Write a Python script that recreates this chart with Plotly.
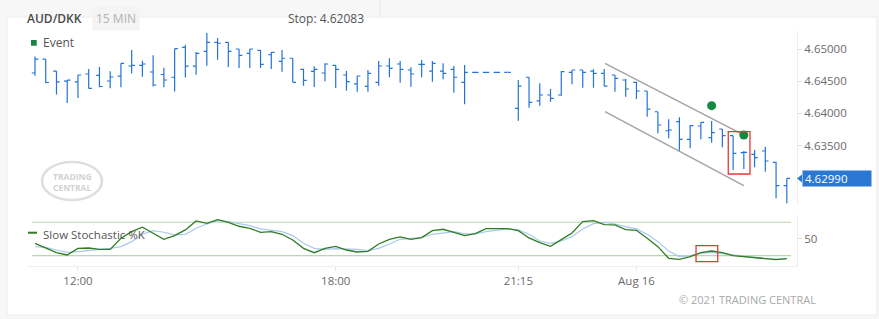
import plotly.graph_objects as go

# ---------------- data ----------------
bar_index = list(range(71))

open_ = [4.64627, 4.64842, 4.64655, 4.64500, 4.64488, 4.64612, 4.64589, 4.64503, 4.64578, 4.64736,
         4.64747, 4.64643, 4.64604, 4.64561, 4.65026, 4.64733, 4.64964, 4.65104, 4.65104, 4.65000,
         4.64933, 4.64980, 4.64911, 4.64809, 4.64856, 4.64685, 4.64654, 4.64627, 4.64747, 4.64596,
         4.64457, 4.64421, 4.64483, 4.64736, 4.64767, 4.64674, 4.64762, 4.64658, 4.64658, 4.64685,
         4.64483, 4.64638, 4.64638, 4.64638, 4.64638, 4.64079, 4.64561, 4.64193, 4.64286, 4.64286,
         4.64638, 4.64674, 4.64658, 4.64623, 4.64596, 4.64519, 4.64483, 4.64348, 4.64026, 4.63731,
         4.63871, 4.63598, 4.63804, 4.63623, 4.63758, 4.63654, 4.63390, 4.63365, 4.63416, 4.63241,
         4.62880]

high = [4.64884, 4.64842, 4.64655, 4.64519, 4.64596, 4.64689, 4.64721, 4.64655, 4.64778, 4.64984,
        4.64818, 4.64904, 4.64708, 4.65005, 4.65065, 4.64953, 4.65248, 4.65171, 4.65104, 4.65000,
        4.65000, 4.64984, 4.64953, 4.64984, 4.64856, 4.64694, 4.64731, 4.64778, 4.64748, 4.64658,
        4.64581, 4.64674, 4.64814, 4.64856, 4.64814, 4.64716, 4.64829, 4.64814, 4.64778, 4.64736,
        4.64752, 4.64638, 4.64638, 4.64638, 4.64638, 4.64519, 4.64561, 4.64467, 4.64379, 4.64658,
        4.64674, 4.64674, 4.64685, 4.64689, 4.64596, 4.64534, 4.64492, 4.64348, 4.64026, 4.63908,
        4.63939, 4.63820, 4.63862, 4.63882, 4.63758, 4.63654, 4.63416, 4.63432, 4.63483, 4.63250,
        4.62990]

low = [4.64584, 4.64469, 4.64293, 4.64161, 4.64239, 4.64387, 4.64405, 4.64391, 4.64405, 4.64620,
       4.64570, 4.64418, 4.64407, 4.64340, 4.64557, 4.64601, 4.64741, 4.64834, 4.64721, 4.64705,
       4.64705, 4.64705, 4.64689, 4.64648, 4.64483, 4.64430, 4.64410, 4.64498, 4.64394, 4.64352,
       4.64337, 4.64337, 4.64430, 4.64561, 4.64477, 4.64415, 4.64561, 4.64492, 4.64529, 4.64321,
       4.64141, 4.64638, 4.64638, 4.64638, 4.64638, 4.63887, 4.64089, 4.64120, 4.64182, 4.64275,
       4.64452, 4.64399, 4.64399, 4.64425, 4.64337, 4.64259, 4.64224, 4.63949, 4.63691, 4.63613,
       4.63405, 4.63458, 4.63598, 4.63545, 4.63474, 4.63121, 4.63137, 4.63163, 4.63095, 4.62682,
       4.62604]

close = [4.64842, 4.64480, 4.64488, 4.64516, 4.64596, 4.64390, 4.64418, 4.64565, 4.64778, 4.64747,
         4.64767, 4.64441, 4.64519, 4.65005, 4.64733, 4.64933, 4.65104, 4.65089, 4.64964, 4.64902,
         4.65000, 4.64762, 4.64949, 4.64856, 4.64483, 4.64514, 4.64685, 4.64767, 4.64685, 4.64492,
         4.64581, 4.64623, 4.64736, 4.64700, 4.64685, 4.64612, 4.64762, 4.64778, 4.64623, 4.64561,
         4.64638, 4.64638, 4.64638, 4.64638, 4.64638, 4.64425, 4.64172, 4.64286, 4.64234, 4.64648,
         4.64674, 4.64638, 4.64623, 4.64425, 4.64545, 4.64379, 4.64348, 4.64065, 4.63820, 4.63742,
         4.63598, 4.63809, 4.63862, 4.63700, 4.63654, 4.63380, 4.63396, 4.63312, 4.63261, 4.62880,
         4.62990]

stoch_k = [42.2, 34.4, 25.4, 21.3, 33.2, 33.8, 31.4, 31.4, 51.2, 63.2,
           71.0, 60.2, 49.4, 56.0, 66.2, 82.3, 78.1, 84.7, 79.9, 72.8,
           69.2, 62.0, 63.2, 58.4, 48.2, 33.2, 25.4, 33.2, 36.8, 30.2,
           26.6, 27.8, 41.0, 49.4, 53.6, 49.4, 52.4, 65.0, 67.4, 62.0,
           56.0, 59.6, 68.6, 68.6, 68.6, 65.0, 51.8, 43.4, 36.8, 48.8,
           60.8, 81.1, 82.9, 75.7, 75.2, 66.8, 65.6, 51.2, 36.2, 15.3,
           13.5, 18.3, 25.4, 28.4, 25.4, 20.1, 18.3, 15.9, 14.1, 12.9,
           14.7]

stoch_d = [36.2, 35.0, 30.2, 26.0, 27.2, 29.0, 30.8, 33.2, 36.2, 45.2,
           58.4, 65.0, 62.0, 57.2, 58.4, 69.2, 76.9, 82.9, 81.1, 78.1,
           74.0, 68.0, 65.0, 63.2, 56.0, 42.2, 33.2, 31.4, 32.6, 32.6,
           31.4, 29.0, 33.2, 41.0, 49.4, 51.2, 52.4, 58.4, 60.8, 63.2,
           59.0, 59.0, 63.2, 66.2, 68.0, 66.2, 58.4, 46.4, 42.2, 46.4,
           54.2, 68.0, 77.5, 79.9, 76.9, 72.2, 68.0, 58.4, 45.2, 28.4,
           18.3, 20.1, 24.3, 26.0, 24.3, 21.3, 18.9, 16.5, 15.3, 14.1,
           14.7]

x_tick_vals = [4, 28, 45, 56]
x_tick_text = ["12:00", "18:00", "21:15", "Aug 16"]
price_tick_vals = [4.635, 4.640, 4.645, 4.650]
stoch_tick_vals = [50]
stoch_levels = [20, 80]

event_x = [63, 66]
event_y = [4.64120, 4.63665]

channel_upper_x = [53.07, 65.83]
channel_upper_y = [4.64778, 4.63680]
channel_lower_x = [53.07, 66.0]
channel_lower_y = [4.64026, 4.62877]

price_box_x = [64.55, 66.57]
price_box_y = [4.63059, 4.63716]
stoch_box_x = [61.55, 63.57]
stoch_box_y = [9.2, 37.96]

last_price = 4.62990
stop_value = 4.62083
symbol = "AUD/DKK"
interval = "15 MIN"

# ---------------- layout helpers ----------------
W, H = 879, 319
ML, MR, MT, MB = 27, 82, 31, 53
PW, PH = W - ML - MR, H - MT - MB


def px_x(px):
    return (px - ML) / PW


def px_y(py):
    return (H - MB - py) / PH


BLUE = "#2374d6"
GREEN_K = "#2f7d22"
BLUE_D = "#a9c9f0"
FONT = "Open Sans"

fig = go.Figure()

fig.add_trace(go.Ohlc(
    x=bar_index, open=open_, high=high, low=low, close=close,
    increasing=dict(line=dict(color=BLUE, width=1.2)),
    decreasing=dict(line=dict(color=BLUE, width=1.2)),
    tickwidth=0.3, hoverinfo="skip", xaxis="x", yaxis="y", showlegend=False))

fig.add_trace(go.Scatter(x=channel_upper_x, y=channel_upper_y, mode="lines",
                         line=dict(color="#a3a3a3", width=1.4), hoverinfo="skip",
                         xaxis="x", yaxis="y", showlegend=False))
fig.add_trace(go.Scatter(x=channel_lower_x, y=channel_lower_y, mode="lines",
                         line=dict(color="#a3a3a3", width=1.4), hoverinfo="skip",
                         xaxis="x", yaxis="y", showlegend=False))

fig.add_trace(go.Scatter(x=event_x, y=event_y, mode="markers",
                         marker=dict(symbol="circle", size=9, color="#128a40"),
                         hoverinfo="skip", xaxis="x", yaxis="y", showlegend=False))

fig.add_trace(go.Scatter(x=bar_index, y=stoch_d, mode="lines",
                         line=dict(color=BLUE_D, width=1.2), hoverinfo="skip",
                         xaxis="x2", yaxis="y2", showlegend=False))
fig.add_trace(go.Scatter(x=bar_index, y=stoch_k, mode="lines",
                         line=dict(color=GREEN_K, width=1.3), hoverinfo="skip",
                         xaxis="x2", yaxis="y2", showlegend=False))

xrange = [-0.745, 70.95]
shapes = []

# frame / background strips
strip = "#f7f7f7"
shapes += [
    dict(type="rect", xref="paper", yref="paper", x0=px_x(0), x1=px_x(W), y0=px_y(17), y1=px_y(0),
         fillcolor=strip, line=dict(width=0), layer="below"),
    dict(type="rect", xref="paper", yref="paper", x0=px_x(0), x1=px_x(7), y0=px_y(H), y1=px_y(0),
         fillcolor=strip, line=dict(width=0), layer="below"),
    dict(type="rect", xref="paper", yref="paper", x0=px_x(877), x1=px_x(W), y0=px_y(H), y1=px_y(0),
         fillcolor=strip, line=dict(width=0), layer="below"),
    dict(type="rect", xref="paper", yref="paper", x0=px_x(0), x1=px_x(W), y0=px_y(H), y1=px_y(315),
         fillcolor=strip, line=dict(width=0), layer="below"),
    dict(type="line", xref="paper", yref="paper", x0=px_x(7), x1=px_x(877), y0=px_y(17), y1=px_y(17),
         line=dict(color="#ececec", width=1), layer="below"),
    dict(type="line", xref="paper", yref="paper", x0=px_x(7), x1=px_x(7), y0=px_y(17), y1=px_y(315),
         line=dict(color="#ececec", width=1), layer="below"),
    dict(type="line", xref="paper", yref="paper", x0=px_x(877), x1=px_x(877), y0=px_y(17), y1=px_y(315),
         line=dict(color="#ececec", width=1), layer="below"),
    dict(type="line", xref="paper", yref="paper", x0=px_x(7), x1=px_x(877), y0=px_y(315), y1=px_y(315),
         line=dict(color="#ececec", width=1), layer="below"),
    dict(type="line", xref="paper", yref="paper", x0=px_x(380), x1=px_x(380), y0=px_y(0), y1=px_y(17),
         line=dict(color="#e6e6e6", width=1), layer="below"),
]

# watermark
shapes.append(dict(type="circle", xref="paper", yref="paper",
                   x0=px_x(42), x1=px_x(102), y0=px_y(200), y1=px_y(162),
                   line=dict(color="#dedede", width=2.5), layer="below"))

# stochastic levels
for lv in stoch_levels:
    shapes.append(dict(type="line", xref="x2", yref="y2", x0=-0.28, x1=70.4, y0=lv, y1=lv,
                       line=dict(color="#b8d8ae", width=1.2), layer="below"))

# red boxes
shapes.append(dict(type="rect", xref="x", yref="y", x0=price_box_x[0], x1=price_box_x[1],
                   y0=price_box_y[0], y1=price_box_y[1], line=dict(color="#e53935", width=1.3)))
shapes.append(dict(type="rect", xref="x2", yref="y2", x0=stoch_box_x[0], x1=stoch_box_x[1],
                   y0=stoch_box_y[0], y1=stoch_box_y[1], line=dict(color="#e53935", width=1.3)))

# legend symbols
shapes.append(dict(type="rect", xref="paper", yref="paper", x0=px_x(31), x1=px_x(36.7),
                   y0=px_y(45.7), y1=px_y(40), fillcolor="#15853f", line=dict(width=0)))
shapes.append(dict(type="line", xref="paper", yref="paper", x0=px_x(28), x1=px_x(37),
                   y0=px_y(232.7), y1=px_y(232.7), line=dict(color=GREEN_K, width=2)))

# last price arrow
pp = 0.005 / 32.2
shapes.append(dict(type="path", xref="paper", yref="y",
                   path=f"M {px_x(797)},{last_price} L {px_x(802)},{last_price + 4 * pp} "
                        f"L {px_x(802)},{last_price - 4 * pp} Z",
                   fillcolor="#2b78d4", line=dict(width=0)))

annotations = [
    dict(x=px_x(25), y=px_y(19), xref="paper", yref="paper", text=symbol, showarrow=False,
         xanchor="left", yanchor="middle", font=dict(family=FONT, size=12, color="#4a4a4a", weight=600)),
    dict(x=px_x(92), y=px_y(19), xref="paper", yref="paper", text=interval, showarrow=False,
         xanchor="left", yanchor="middle", bgcolor="#f4f4f4", borderpad=3,
         font=dict(family=FONT, size=12, color="#b3b3b3")),
    dict(x=px_x(286), y=px_y(19), xref="paper", yref="paper", text=f"Stop: {stop_value:.5f}",
         showarrow=False, xanchor="left", yanchor="middle",
         font=dict(family=FONT, size=12, color="#555555")),
    dict(x=px_x(41), y=px_y(43), xref="paper", yref="paper", text="Event", showarrow=False,
         xanchor="left", yanchor="middle", font=dict(family=FONT, size=12, color="#555555")),
    dict(x=px_x(41), y=px_y(234), xref="paper", yref="paper", text="Slow Stochastic %K",
         showarrow=False, xanchor="left", yanchor="middle",
         font=dict(family=FONT, size=11.5, color="#555555")),
    dict(x=px_x(72), y=px_y(176), xref="paper", yref="paper", text="<b>TRADING</b>", showarrow=False,
         xanchor="center", yanchor="middle", height=8, borderpad=0,
         font=dict(family=FONT, size=8.5, color="#d2d2d2")),
    dict(x=px_x(72), y=px_y(187), xref="paper", yref="paper", text="<b>CENTRAL</b>", showarrow=False,
         xanchor="center", yanchor="middle", height=8, borderpad=0,
         font=dict(family=FONT, size=8.5, color="#d2d2d2")),
    dict(x=px_x(747), y=px_y(299), xref="paper", yref="paper", text="© 2021 TRADING CENTRAL",
         showarrow=False, xanchor="center", yanchor="middle",
         font=dict(family=FONT, size=11, color="#a8a8a8")),
    dict(x=1, xref="paper", y=last_price, yref="y", xanchor="left", yanchor="middle", xshift=5,
         text=f"{last_price:.5f}", showarrow=False, bgcolor="#2b78d4", width=64, height=11,
         align="left", borderpad=2, font=dict(family=FONT, size=11.5, color="white")),
]

fig.update_layout(
    width=W, height=H,
    margin=dict(l=ML, r=MR, t=MT, b=MB, pad=0),
    paper_bgcolor="white", plot_bgcolor="white",
    font=dict(family=FONT, size=11, color="#666666"),
    showlegend=False,
    shapes=shapes, annotations=annotations,
    xaxis=dict(domain=[0, 1], range=xrange, anchor="y", showticklabels=False, showgrid=False,
               zeroline=False, showline=False, ticks="", rangeslider=dict(visible=False), matches="x2"),
    yaxis=dict(domain=[px_y(205), 1], range=[4.625777, 4.652795], side="right", anchor="x",
               tickvals=price_tick_vals, ticktext=[f"{v:.5f}" for v in price_tick_vals],
               showgrid=False, zeroline=False, showline=True, linecolor="#ececec",
               ticks="outside", ticklen=4, tickcolor="#e0e0e0",
               tickfont=dict(family=FONT, size=11.5, color="#6a6a6a")),
    xaxis2=dict(domain=[0, 1], range=xrange, anchor="y2", tickvals=x_tick_vals, ticktext=x_tick_text,
                showgrid=False, zeroline=False, showline=True, linecolor="#f0f0f0",
                ticks="outside", ticklen=4, tickcolor="#e6e6e6",
                tickfont=dict(family=FONT, size=11.5, color="#6a6a6a")),
    yaxis2=dict(domain=[0, px_y(215)], range=[1.5, 93], side="right", anchor="x2",
                tickvals=stoch_tick_vals, showgrid=False, zeroline=False, showline=True,
                linecolor="#ececec", ticks="outside", ticklen=4, tickcolor="#e0e0e0",
                tickfont=dict(family=FONT, size=11.5, color="#6a6a6a")),
)

fig.write_html("out.html")
